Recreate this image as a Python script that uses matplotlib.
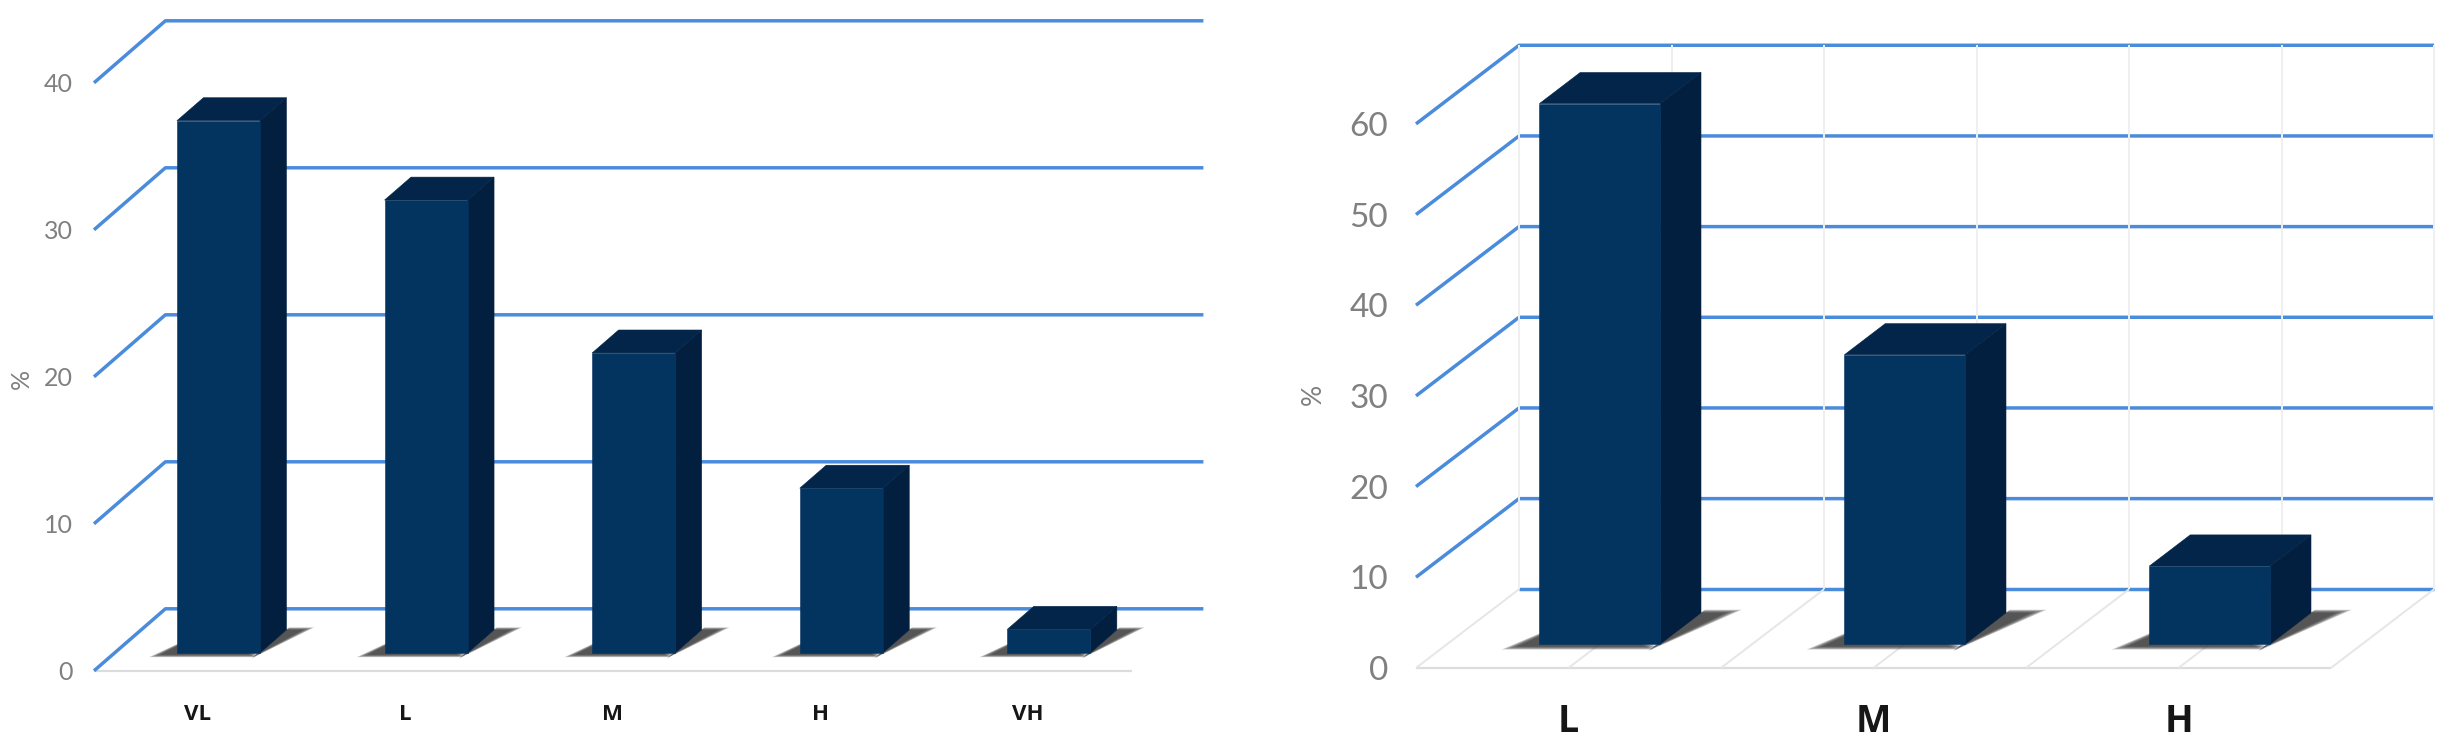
import matplotlib
matplotlib.use('Agg')
import matplotlib.pyplot as plt

W, H = 2454, 747

left_cats = ['VL', 'L', 'M', 'H', 'VH']
left_vals = [36.2, 30.8, 20.4, 11.2, 1.6]
left_ticks = [0, 10, 20, 30, 40]

right_cats = ['L', 'M', 'H']
right_vals = [59.6, 31.9, 8.6]
right_ticks = [0, 10, 20, 30, 40, 50, 60]

BLUE = '#4a8cdb'
FRONT = '#03335f'
SIDE = '#021f40'
TOP = '#022549'
FLOOR = '#e6e6e6'
TICK = '#808080'


def make_axes(fig, x0, x1, y0, ppu, ticks):
    # axes rectangle is the front plane of the chart, in pixels of the figure
    top = ticks[-1] * ppu
    ax = fig.add_axes([x0 / W, (H - y0) / H, (x1 - x0) / W, top / H])
    ax.set_ylim(0, ticks[-1])
    for s in ax.spines.values():
        s.set_visible(False)
    ax.patch.set_alpha(0)
    return ax


def draw_chart(ax, cats, vals, ticks, dx, dy, bar_w, d0, d1, opts):
    n = len(cats)
    ax.set_xlim(0, n)

    def pr(x, v, d):
        return x + d * dx, v + d * dy

    def poly(pts, color, alpha=1, edge=0.0, zorder=4):
        xs, ys = zip(*[pr(*p) for p in pts])
        ax.fill(xs, ys, clip_on=False, facecolor=color, edgecolor=color,
                lw=edge, alpha=alpha, zorder=zorder)

    def line(pts, **kw):
        xs, ys = zip(*[pr(*p) for p in pts])
        ax.plot(xs, ys, clip_on=False, solid_capstyle='butt', **kw)

    for t in ticks:
        if t == 0 and opts['floor_grid']:
            line([(0, t, 1), (n, t, 1)], color=BLUE, lw=opts['lw'], zorder=2)
        else:
            line([(0, t, 0), (0, t, 1), (n, t, 1)], color=BLUE, lw=opts['lw'], zorder=2)

    line([(0, 0, 0), (n, 0, 0)], color='#dcdcdc', lw=1.6, zorder=1)

    if opts['floor_grid']:
        for k in range(2 * n + 1):
            x = k / 2
            line([(x, ticks[-1], 1), (x, 0, 1)], color='#efefef', lw=1.4, zorder=3)
            line([(x, 0, 1), (x, 0, 0)], color=FLOOR, lw=1.4, zorder=3)

    for i, v in enumerate(vals):
        x0 = i + 0.5 - bar_w / 2
        x1 = i + 0.5 + bar_w / 2
        # soft shadow on the floor, stacked thin layers
        for g in range(6):
            e = 0.008 * (5 - g)
            poly([(x0 - opts['sh_l'] - e, 0, d0 - 0.03 - e), (x0 + 0.01, 0, d0 + 0.3 + e),
                  (x1, 0, d0 - 0.03 - e)], '#333333', alpha=0.25)
            poly([(x1 - 0.01, 0, d0 - 0.05 - e), (x1 + opts['sh_r'] + e, 0, d1 + e),
                  (x1, 0, d1 + e)], '#333333', alpha=0.25)
        poly([(x0, 0, d0), (x1, 0, d0), (x1, v, d0), (x0, v, d0)], FRONT, edge=0.4, zorder=6)
        poly([(x1, 0, d0), (x1, 0, d1), (x1, v, d1), (x1, v, d0)], SIDE, edge=0.4, zorder=5)
        poly([(x0, v, d0), (x1, v, d0), (x1, v, d1), (x0, v, d1)], TOP, edge=0.4, zorder=5)

    ax.set_yticks(ticks)
    ax.set_yticklabels(ticks, family=opts['font'], fontsize=opts['ytick'], color=TICK)
    ax.tick_params(axis='y', length=0, pad=opts['ypad'])
    ax.set_xticks([i + 0.5 for i in range(n)])
    ax.set_xticklabels(cats, family='Open Sans', fontsize=opts['xtick'],
                       fontweight='bold', color='#161616')
    ax.tick_params(axis='x', length=0, pad=opts['xpad'])
    ax.set_ylabel('%', family=opts['font'], fontsize=opts['ylab'], color=TICK)
    ax.yaxis.set_label_coords(*opts['ylab_pos'])


fig = plt.figure(figsize=(W / 100, H / 100), dpi=100)

ax1 = make_axes(fig, 94, 1132, 670.8, 14.7, left_ticks)
draw_chart(ax1, left_cats, left_vals, left_ticks, 71.4 / 207.6, 62 / 14.7, 0.40, 0.29, 0.66,
           dict(lw=2.5, floor_grid=False, font='Lato', ytick=18, xtick=16, ylab=18,
                ypad=15, xpad=24, sh_l=0.07, sh_r=0.08, ylab_pos=(-0.059, 0.496)))

ax2 = make_axes(fig, 1416, 2331, 667.9, 9.067, right_ticks)
draw_chart(ax2, right_cats, right_vals, right_ticks, 103 / 305, 78.6 / 9.067, 0.396, 0.304, 0.70,
           dict(lw=2.5, floor_grid=True, font='Lato', ytick=24, xtick=27, ylab=19,
                ypad=20, xpad=25, sh_l=0.06, sh_r=0.08, ylab_pos=(-0.099, 0.503)))

fig.savefig('out.png', dpi=100)
